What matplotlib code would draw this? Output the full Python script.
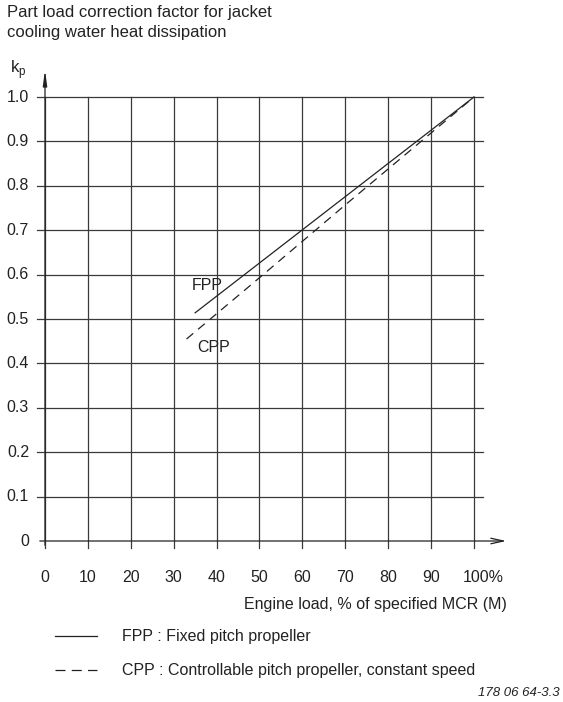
import numpy as np
import matplotlib
matplotlib.use("Agg")
import matplotlib.pyplot as plt
from matplotlib.lines import Line2D

plt.rcParams['font.family'] = ['Liberation Sans', 'DejaVu Sans']

# data
x_ticks = [0, 10, 20, 30, 40, 50, 60, 70, 80, 90, 100]
x_labels = ['0', '10', '20', '30', '40', '50', '60', '70', '80', '90', '100%']
y_ticks = [0, 0.1, 0.2, 0.3, 0.4, 0.5, 0.6, 0.7, 0.8, 0.9, 1.0]
y_labels = ['0', '0.1', '0.2', '0.3', '0.4', '0.5', '0.6', '0.7', '0.8', '0.9', '1.0']

fpp_load = [35, 100]
fpp_kp = [0.514, 1.0]
cpp_load = [33, 50, 70, 100]
cpp_kp = [0.455, 0.593, 0.757, 1.0]

W, H = 563, 702
fig = plt.figure(figsize=(W / 100, H / 100), dpi=100)

# plot area in pixels: x 0..100 -> 45..474, y 0..1 -> 541..97
x0, x1, y0, y1 = 45, 474, 541, 97
ax = fig.add_axes([x0 / W, 1 - y0 / H, (x1 - x0) / W, (y0 - y1) / H])
ax.set_xlim(0, 100)
ax.set_ylim(0, 1)
ax.axis('off')

px_x = (x1 - x0) / 100.0
px_y = (y0 - y1) / 1.0
fs = 11.5
ink = '#222222'


def dx(p):
    return (p - x0) / px_x


def dy(p):
    return (y0 - p) / px_y


grid_col = '#3a3a3a'
for v in x_ticks:
    ax.plot([v, v], [dy(548), 1.0], color=grid_col, lw=0.9, clip_on=False)
for v in y_ticks[1:]:
    ax.plot([dx(37), dx(483)], [v, v], color=grid_col, lw=0.9, clip_on=False)

# axes with arrows
ax.annotate('', xy=(dx(509), 0), xytext=(dx(37), 0),
            arrowprops=dict(arrowstyle='->,head_length=0.9,head_width=0.2',
                            color=ink, lw=0.9), annotation_clip=False)
ax.annotate('', xy=(0, dy(67)), xytext=(0, dy(548)),
            arrowprops=dict(arrowstyle='-|>,head_length=0.9,head_width=0.12',
                            color=ink, lw=0.9), annotation_clip=False)

for v, s in zip(y_ticks, y_labels):
    ax.text(dx(29), v, s, ha='right', va='center', fontsize=fs, color=ink)
for v, s in zip(x_ticks, x_labels):
    ax.text(v + (2.1 if s.endswith('%') else 0), dy(578), s, ha='center', va='center',
            fontsize=fs, color=ink)

ax.plot(fpp_load, fpp_kp, color=ink, lw=0.9, clip_on=False)
ax.plot(cpp_load, cpp_kp, color=ink, lw=0.9, dashes=(7, 5), clip_on=False)

ax.text(dx(207), dy(286), 'FPP', ha='center', va='center', fontsize=fs, color=ink)
ax.text(dx(214), dy(348), 'CPP', ha='center', va='center', fontsize=fs, color=ink)

# texts outside the plot
fig.text(7 / W, 1 - 12 / H, 'Part load correction factor for jacket', ha='left', va='center',
         fontsize=12, color=ink)
fig.text(7 / W, 1 - 32 / H, 'cooling water heat dissipation', ha='left', va='center',
         fontsize=12, color=ink)
fig.text(10 / W, 1 - 70 / H, 'k$_\\mathregular{p}$', ha='left', va='center',
         fontsize=12, color=ink)
fig.text(507 / W, 1 - 604 / H, 'Engine load, % of specified MCR (M)', ha='right', va='center',
         fontsize=fs, color=ink)

fig.add_artist(Line2D([55 / W, 97 / W], [1 - 636 / H, 1 - 636 / H], color=ink, lw=0.9))
fig.add_artist(Line2D([55 / W, 97 / W], [1 - 670 / H, 1 - 670 / H], color=ink, lw=0.9,
                      dashes=(8, 5)))
fig.text(122 / W, 1 - 636 / H, 'FPP : Fixed pitch propeller', ha='left', va='center',
         fontsize=fs, color=ink)
fig.text(122 / W, 1 - 670 / H, 'CPP : Controllable pitch propeller, constant speed', ha='left',
         va='center', fontsize=fs, color=ink)
fig.text(560 / W, 1 - 693 / H, '178 06 64-3.3', ha='right', va='center', fontsize=9.5,
         style='italic', color=ink)

fig.savefig('out.png', dpi=100, facecolor='white')
